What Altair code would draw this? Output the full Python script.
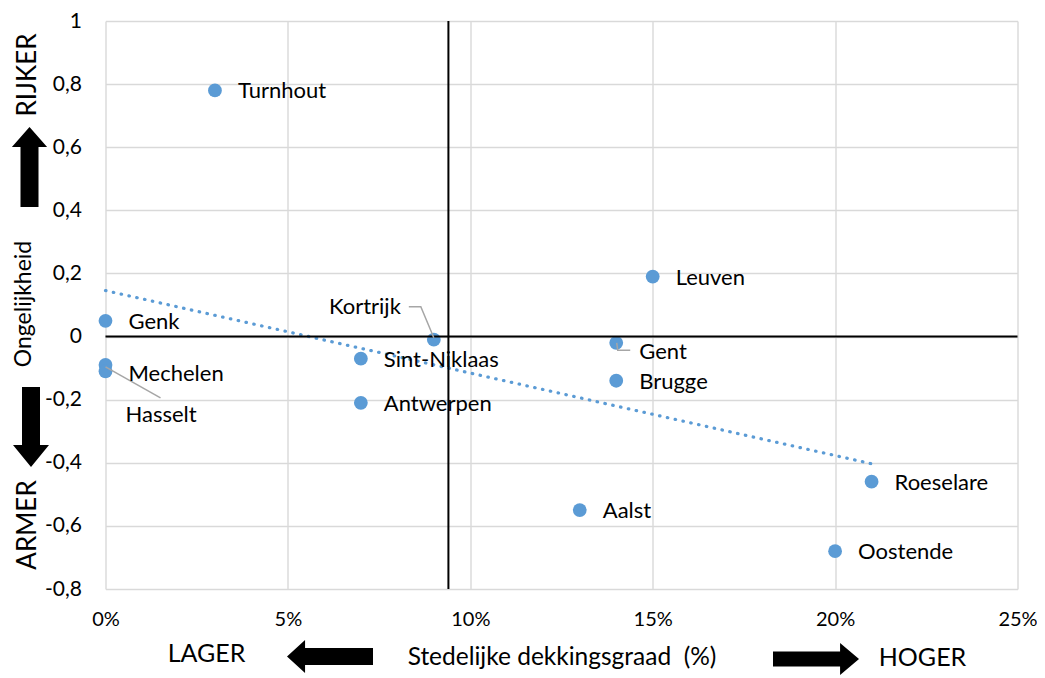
import altair as alt
import pandas as pd

# ---- data ----
cities = ["Turnhout", "Leuven", "Genk", "Kortrijk", "Gent", "Sint-Niklaas",
          "Mechelen", "Hasselt", "Brugge", "Antwerpen", "Roeselare", "Aalst", "Oostende"]
coverage = [0.03, 0.15, 0.00, 0.09, 0.14, 0.07, 0.00, 0.00, 0.14, 0.07, 0.21, 0.13, 0.20]
inequality = [0.78, 0.19, 0.05, -0.01, -0.02, -0.07, -0.09, -0.11, -0.14, -0.21, -0.46, -0.55, -0.68]
x_ticks = [0, 0.05, 0.10, 0.15, 0.20, 0.25]
y_ticks = [-0.8, -0.6, -0.4, -0.2, 0, 0.2, 0.4, 0.6, 0.8, 1.0]
split_x = [0.094]
split_y = [0]

df = pd.DataFrame({"stad": cities, "x": coverage, "y": inequality})
one = pd.DataFrame({"k": [0]})

FONT = "Lato"
BLUE = "#5B9BD5"
GRID = "#D9D9D9"

# plot area placement (page pixels, body margin 8)
PAD_LEFT, PAD_TOP = 97.5, 13
OX, OY = 8 + PAD_LEFT, 8 + PAD_TOP

xs = alt.Scale(domain=[0, 0.25], nice=False, zero=False)
ys = alt.Scale(domain=[-0.8, 1.0], nice=False, zero=False)
xa = alt.Axis(values=x_ticks, format=".0%", title=None, grid=True, gridColor=GRID,
              gridWidth=1.4, ticks=False, tickSize=0, domain=False, labelFontSize=20,
              labelFont=FONT, labelColor="#000", labelPadding=20, labelFlush=False)
ya = alt.Axis(values=y_ticks, title=None, grid=True, gridColor=GRID, gridWidth=1.4,
              ticks=False, tickSize=0, domain=False, labelFontSize=21, labelFont=FONT,
              labelColor="#000", labelPadding=24, labelFlush=False,
              labelExpr="datum.value == 0 ? '0' : datum.value == 1 ? '1' : "
                        "(datum.value < 0 ? '-' : '') + replace(format(abs(datum.value), '.1f'), '.', ',')")

X = alt.X("x:Q", scale=xs, axis=xa)
Y = alt.Y("y:Q", scale=ys, axis=ya)

base = alt.Chart(df)

points = base.mark_point(filled=True, size=190, color=BLUE, opacity=1).encode(x=X, y=Y)

trend = base.transform_regression("x", "y").mark_line(
    color=BLUE, strokeWidth=3.2, strokeDash=[0.5, 7.5], strokeCap="round"
).encode(x=X, y=Y)

hline = alt.Chart(pd.DataFrame({"y": split_y})).mark_rule(color="black", strokeWidth=2).encode(y=Y)
vline = alt.Chart(pd.DataFrame({"x": split_x})).mark_rule(color="black", strokeWidth=2).encode(x=X)

# label placement per city (pixel offsets)
special = {
    "Kortrijk": dict(align="right", dx=-33, dy=-33),
    "Hasselt": dict(align="left", dx=20, dy=44),
    "Gent": dict(align="left", dx=23, dy=9),
    "Mechelen": dict(align="left", dx=23, dy=9),
}
LABEL_SIZE = 22
label_layers = []
default_names = [c for c in cities if c not in special]
label_layers.append(
    base.transform_filter(alt.FieldOneOfPredicate(field="stad", oneOf=default_names))
    .mark_text(align="left", baseline="middle", dx=23, dy=1, fontSize=LABEL_SIZE, font=FONT, color="#000")
    .encode(x=X, y=Y, text="stad:N")
)
for name, st in special.items():
    label_layers.append(
        base.transform_filter(alt.datum.stad == name)
        .mark_text(baseline="middle", fontSize=LABEL_SIZE, font=FONT, color="#000", **st)
        .encode(x=X, y=Y, text="stad:N")
    )

# leader lines (drawn as pixel-unit paths anchored at the dot)
leaders = {
    "Kortrijk": "M -25 -33 L -13 -33 L 0 -2",
    "Gent": "M 0.5 0 L 1.5 7.5 L 14 7.5",
    "Mechelen": "M 0 2 L 55 33",
}
leader_layers = [
    base.transform_filter(alt.datum.stad == name)
    .mark_point(shape=path, size=4, filled=False, color="#A6A6A6", strokeWidth=1.5, opacity=1)
    .encode(x=X, y=Y)
    for name, path in leaders.items()
]

# arrows and side texts
UP = "M 0 -1 L 0.44 -0.5 L 0.225 -0.5 L 0.225 1 L -0.225 1 L -0.225 -0.5 L -0.44 -0.5 Z"
DOWN = "M 0 1 L 0.45 0.45 L 0.225 0.45 L 0.225 -1 L -0.225 -1 L -0.225 0.45 L -0.45 0.45 Z"
LEFT = "M -1 0 L -0.58 -0.384 L -0.58 -0.198 L 1 -0.198 L 1 0.198 L -0.58 0.198 L -0.58 0.384 Z"
RIGHT = "M 1 0 L 0.56 -0.372 L 0.56 -0.175 L -1 -0.175 L -1 0.175 L 0.56 0.175 L 0.56 0.372 Z"


def arrow(shape, size, px, py):
    return alt.Chart(one).mark_point(shape=shape, size=size, filled=True, color="black",
                                     opacity=1, strokeWidth=0).encode(
        x=alt.value(px - OX), y=alt.value(py - OY))


def label(text, px, py, size, angle=0):
    return alt.Chart(one).mark_text(text=text, angle=angle, fontSize=size, font=FONT, color="#000",
                                    align="center", baseline="middle").encode(
        x=alt.value(px - OX), y=alt.value(py - OY))


annotations = [
    arrow(UP, 80 ** 2, 29.5, 167),
    arrow(DOWN, 80 ** 2, 31, 427),
    arrow(LEFT, 86 ** 2, 330, 656.5),
    arrow(RIGHT, 86 ** 2, 816, 659),
    label("RIJKER", 27.5, 75, 26, 270),
    label("ARMER", 27.5, 525, 26, 270),
    label("Ongelijkheid", 24, 304, 23, 270),
    label("LAGER", 206.5, 654, 25),
    label("HOGER", 922.5, 658, 25),
    label("Stedelijke dekkingsgraad\u00a0 (%)", 562, 658, 24.5),
]

chart = alt.layer(points, trend, hline, vline, *leader_layers, *label_layers, *annotations).properties(
    width=912, height=568,
    autosize=alt.AutoSizeParams(type="none"),
    padding={"left": PAD_LEFT, "top": PAD_TOP, "right": 19.5, "bottom": 86},
).configure_view(stroke=None)

chart.save("out.html", embed_options={"renderer": "svg", "actions": False})
